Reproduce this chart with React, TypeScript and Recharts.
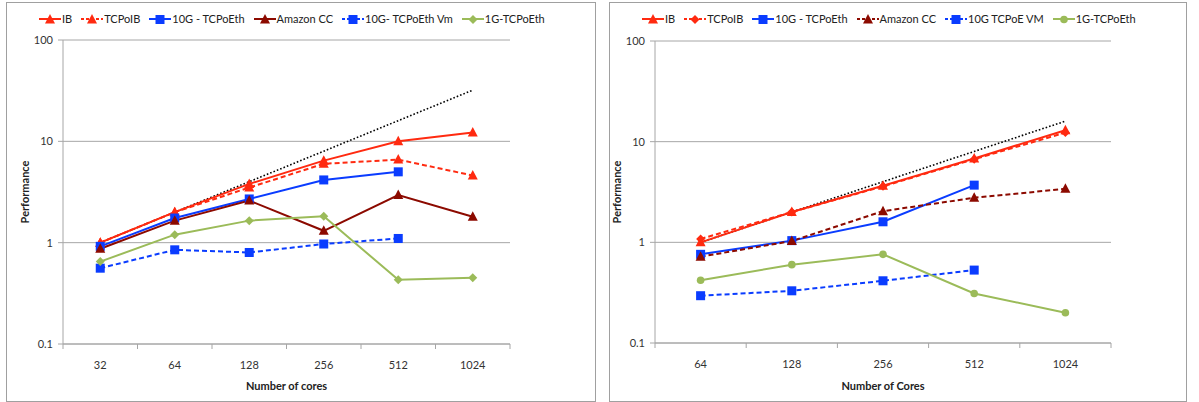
import { LineChart, Line, XAxis, YAxis, CartesianGrid } from 'recharts';

const leftCats = ['32', '64', '128', '256', '512', '1024'];
const leftIB = [1.0, 2.0, 3.8, 6.45, 10.0, 12.2];
const leftTCPoIB = [1.0, 2.0, 3.5, 6.0, 6.6, 4.6];
const left10G = [0.92, 1.75, 2.7, 4.16, 5.0, null];
const leftAmazon = [0.87, 1.65, 2.6, 1.31, 2.95, 1.8];
const left10GVm = [0.56, 0.85, 0.8, 0.97, 1.1, null];
const left1G = [0.65, 1.2, 1.65, 1.82, 0.43, 0.45];
const leftIdeal = [1, 2, 4, 8, 16, 32];

const rightCats = ['64', '128', '256', '512', '1024'];
const rightIB = [1.0, 2.0, 3.65, 6.8, 13.0];
const rightTCPoIB = [1.08, 2.0, 3.6, 6.7, 12.3];
const right10G = [0.76, 1.04, 1.6, 3.7, null];
const rightAmazon = [0.72, 1.03, 2.04, 2.77, 3.4];
const right10GVm = [0.295, 0.33, 0.415, 0.53, null];
const right1G = [0.42, 0.6, 0.76, 0.31, 0.2];
const rightIdeal = [1, 2, 4, 8, 16];

const yTicks = [0.1, 1, 10, 100];

const RED = '#ff2a10';
const BLUE = '#0a3cff';
const DARKRED = '#8c0a00';
const GREEN = '#9bbb59';
const GRID = '#a6a6a6';

type Shape = 'triangle' | 'square' | 'diamond' | 'circle';

interface Series {
  name: string;
  values: (number | null)[];
  color: string;
  dashed: boolean;
  shape: Shape;
}

const leftSeries: Series[] = [
  { name: 'IB', values: leftIB, color: RED, dashed: false, shape: 'triangle' },
  { name: 'TCPoIB', values: leftTCPoIB, color: RED, dashed: true, shape: 'triangle' },
  { name: '10G - TCPoEth', values: left10G, color: BLUE, dashed: false, shape: 'square' },
  { name: 'Amazon CC', values: leftAmazon, color: DARKRED, dashed: false, shape: 'triangle' },
  { name: '10G- TCPoEth Vm', values: left10GVm, color: BLUE, dashed: true, shape: 'square' },
  { name: '1G-TCPoEth', values: left1G, color: GREEN, dashed: false, shape: 'diamond' },
];

const rightSeries: Series[] = [
  { name: 'IB', values: rightIB, color: RED, dashed: false, shape: 'triangle' },
  { name: 'TCPoIB', values: rightTCPoIB, color: RED, dashed: true, shape: 'diamond' },
  { name: '10G - TCPoEth', values: right10G, color: BLUE, dashed: false, shape: 'square' },
  { name: 'Amazon CC', values: rightAmazon, color: DARKRED, dashed: true, shape: 'triangle' },
  { name: '10G TCPoE VM', values: right10GVm, color: BLUE, dashed: true, shape: 'square' },
  { name: '1G-TCPoEth', values: right1G, color: GREEN, dashed: false, shape: 'circle' },
];

function Marker({ shape, cx, cy, color }: { shape: Shape; cx: number; cy: number; color: string }) {
  if (shape === 'triangle') {
    return <polygon points={`${cx},${cy - 5.5} ${cx + 5},${cy + 4} ${cx - 5},${cy + 4}`} fill={color} />;
  }
  if (shape === 'square') {
    return <rect x={cx - 4.5} y={cy - 4.5} width={9} height={9} fill={color} />;
  }
  if (shape === 'diamond') {
    return <polygon points={`${cx},${cy - 4.5} ${cx + 4.5},${cy} ${cx},${cy + 4.5} ${cx - 4.5},${cy}`} fill={color} />;
  }
  return <circle cx={cx} cy={cy} r={3.8} fill={color} />;
}

function LegendRow({ series }: { series: Series[] }) {
  return (
    <div style={{ display: 'flex', gap: 9, alignItems: 'center', fontSize: 11, color: '#222' }}>
      {series.map((s) => (
        <div key={s.name} style={{ display: 'flex', alignItems: 'center' }}>
          <svg width={22} height={12}>
            <line x1={0} x2={22} y1={6} y2={6} stroke={s.color} strokeWidth={2} strokeDasharray={s.dashed ? '3 2' : undefined} />
            <Marker shape={s.shape} cx={11} cy={6.5} color={s.color} />
          </svg>
          <span style={{ marginLeft: 1 }}>{s.name}</span>
        </div>
      ))}
    </div>
  );
}

interface PanelProps {
  cats: string[];
  series: Series[];
  ideal: number[];
  left: number;
  width: number;
  margin: { top: number; right: number; bottom: number };
  yAxisWidth: number;
  xLabel: string;
  yLabelOffset: number;
}

function Panel({ cats, series, ideal, left, width, margin, yAxisWidth, xLabel, yLabelOffset }: PanelProps) {
  const data = cats.map((c, i) => {
    const row: Record<string, number | string | null> = { i, cat: c, ideal: ideal[i] };
    series.forEach((s, k) => {
      row['s' + k] = s.values[i];
    });
    return row;
  });
  const ticks: number[] = [];
  for (let t = -0.5; t <= cats.length - 0.5; t += 0.5) ticks.push(t);

  const XTick = (props: any) => {
    const { x, y, payload } = props;
    const v = payload.value as number;
    if (Number.isInteger(v)) {
      return (
        <text x={x} y={y + 25} textAnchor="middle" fontSize={11} fill="#333">
          {cats[v]}
        </text>
      );
    }
    return <line x1={x} x2={x} y1={y} y2={y + 5} stroke={GRID} />;
  };

  const chartW = width - 2;
  const chartH = 398;

  return (
    <div
      style={{
        position: 'absolute',
        left,
        top: 2,
        width,
        height: 400,
        boxSizing: 'border-box',
        border: '1px solid #a0a0a0',
        background: '#fff',
      }}
    >
      <div style={{ position: 'absolute', left: 32, top: 9 }}>
        <LegendRow series={series} />
      </div>
      <div style={{ position: 'absolute', left: 0, top: 0 }}>
        <LineChart width={chartW} height={chartH} data={data} margin={{ top: margin.top, right: margin.right, bottom: 0, left: 0 }}>
          <CartesianGrid horizontal vertical={false} stroke={GRID} />
          <XAxis
            dataKey="i"
            type="number"
            domain={[-0.5, cats.length - 0.5]}
            ticks={ticks}
            interval={0}
            tick={<XTick />}
            tickLine={false}
            tickSize={0}
            tickMargin={0}
            stroke={GRID}
            height={margin.bottom}
            label={{ value: xLabel, position: 'insideBottom', offset: 11, style: { fontWeight: 'bold', fontSize: 11, fill: '#222' } }}
          />
          <YAxis
            scale="log"
            domain={[0.1, 100]}
            ticks={yTicks}
            allowDataOverflow
            interval={0}
            width={yAxisWidth}
            stroke={GRID}
            tickSize={5}
            tickMargin={5}
            tick={{ fontSize: 11, fill: '#333' }}
            tickFormatter={(v: number) => String(v)}
            label={{
              value: 'Performance',
              angle: -90,
              position: 'insideLeft',
              offset: yLabelOffset,
              style: { textAnchor: 'middle', fontWeight: 'bold', fontSize: 11, fill: '#222' },
            }}
          />
          <Line
            dataKey="ideal"
            stroke="#000"
            strokeWidth={1.6}
            strokeDasharray="1.6 2"
            dot={false}
            isAnimationActive={false}
          />
          {series.map((s, k) => (
            <Line
              key={s.name}
              dataKey={'s' + k}
              name={s.name}
              stroke={s.color}
              strokeWidth={2}
              strokeDasharray={s.dashed ? '5 3' : undefined}
              isAnimationActive={false}
              dot={(p: any) =>
                p.cx == null || p.cy == null || p.value == null ? (
                  <g key={`${s.name}-${p.index}`} />
                ) : (
                  <Marker key={`${s.name}-${p.index}`} shape={s.shape} cx={p.cx} cy={p.cy} color={s.color} />
                )
              }
              activeDot={false}
            />
          ))}
        </LineChart>
      </div>
    </div>
  );
}

export default function App() {
  return (
    <div
      style={{
        position: 'absolute',
        left: 0,
        top: 0,
        width: 1199,
        height: 402,
        background: '#fff',
        fontFamily: 'Lato, "Open Sans", sans-serif',
      }}
    >
      <Panel
        cats={leftCats}
        series={leftSeries}
        ideal={leftIdeal}
        left={6}
        width={590}
        margin={{ top: 37, right: 85, bottom: 57 }}
        yAxisWidth={56}
        xLabel="Number of cores"
        yLabelOffset={18}
      />
      <Panel
        cats={rightCats}
        series={rightSeries}
        ideal={rightIdeal}
        left={609}
        width={578}
        margin={{ top: 38, right: 75, bottom: 58 }}
        yAxisWidth={45}
        xLabel="Number of Cores"
        yLabelOffset={7}
      />
    </div>
  );
}
